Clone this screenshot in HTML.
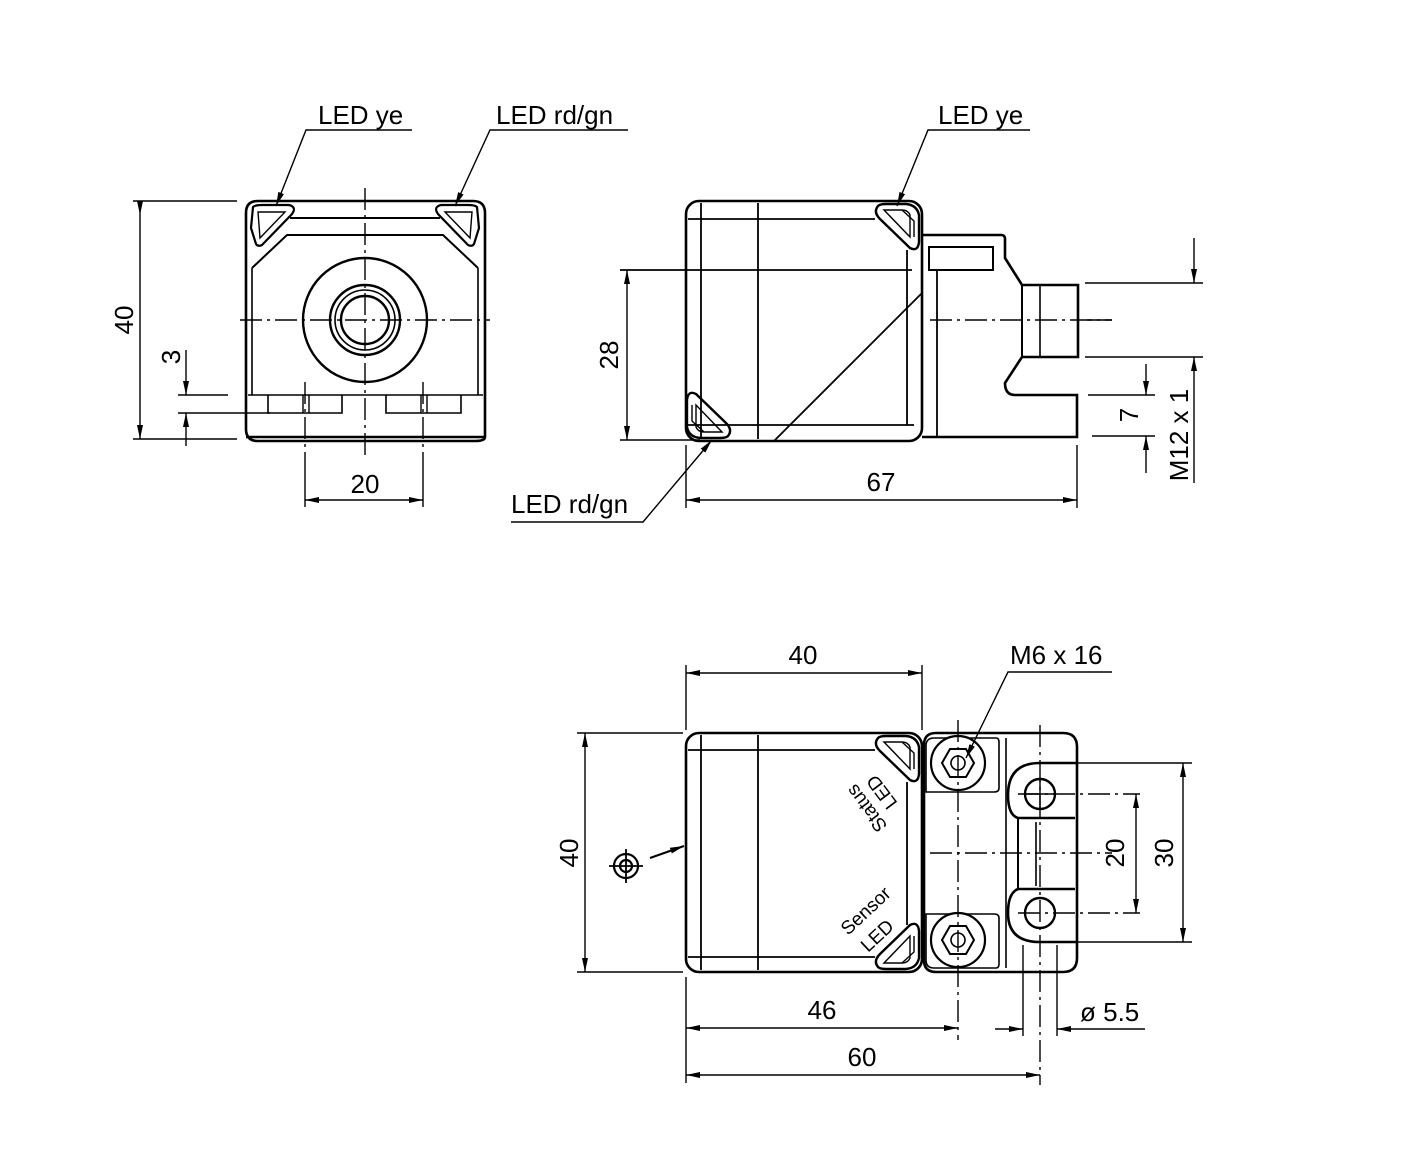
<!DOCTYPE html>
<html><head><meta charset="utf-8"><style>
html,body{margin:0;padding:0;background:#fff}
svg{display:block}
text{font-family:"Liberation Sans",Arial,sans-serif;fill:#000}
</style></head><body>
<svg width="1419" height="1170" viewBox="0 0 1419 1170" xmlns="http://www.w3.org/2000/svg">
<defs>
<marker id="a" viewBox="0 0 14 6" refX="14" refY="3" markerWidth="14" markerHeight="6" markerUnits="userSpaceOnUse" orient="auto"><path d="M0,0 L14,3 L0,6 z" fill="#000"/></marker>
<g id="led">
<path d="M-8,-35 Q-13,-29 -6,-22 L24,7 Q32,11 33,1 V-26 Q31,-36 20,-37 H0 Q-6,-37 -8,-35 Z" stroke-width="2.4"/>
<path d="M-2,-31 L24,-4 V-26 Q22,-31 16,-31 Z" stroke-width="1.4"/>
<path d="M16,-31 L28,-20 V-4" stroke-width="1.4"/>
</g>
</defs>
<g fill="none" stroke="#000" stroke-width="1.4">
<!-- ===== VIEW 1 ===== -->
<g stroke-width="2.6">
<path d="M258,201 H473 Q485,201 485,213 V437 Q485,441 475,441 H258 Q246,441 246,429 V213 Q246,201 258,201 Z"/>
<line x1="246" y1="437" x2="485" y2="437"/>
</g>
<line x1="290" y1="218" x2="440" y2="218" stroke-width="2"/>
<path d="M252,268 L287,235 H443 L478,268" stroke-width="2"/>
<path d="M252,268 V395 M478,268 V395" stroke-width="1.6"/>
<line x1="248" y1="395" x2="483" y2="395" stroke-width="1.6"/>
<path d="M268,395 V413 H342 V395 M386,395 V413 H461 V395" stroke-width="1.6"/>
<path d="M303,395 V413 M309,395 V413 M421,395 V413 M427,395 V413" stroke-width="1.4"/>
<!-- LEDs view1 -->
<path d="M253,207 Q255,205 262,205 H289 Q297,207 292,214 L262,245 Q258,247 256,244 L251,228 Z" stroke-width="2.2"/>
<path d="M258,212 H285 L260,238 Z" stroke-width="1.4"/>
<path d="M477,207 Q475,205 468,205 H441 Q433,207 438,214 L468,245 Q472,247 474,244 L479,228 Z" stroke-width="2.2"/>
<path d="M472,212 H445 L470,238 Z" stroke-width="1.4"/>
<circle cx="365" cy="320" r="62" stroke-width="2.4"/>
<circle cx="365" cy="320" r="35" stroke-width="2.4"/>
<circle cx="365" cy="320" r="30" stroke-width="1.6"/>
<circle cx="365" cy="320" r="24" stroke-width="2.4"/>
<g stroke-dasharray="22,5,3,5" stroke-width="1.4">
<line x1="240" y1="320" x2="490" y2="320"/>
<line x1="365" y1="188" x2="365" y2="458"/>
<line x1="305" y1="382" x2="305" y2="460"/>
<line x1="423" y1="382" x2="423" y2="460"/>
</g>
<!-- dims view 1 -->
<line x1="133" y1="201" x2="237" y2="201"/>
<line x1="133" y1="439" x2="237" y2="439"/>
<line x1="140" y1="201" x2="140" y2="439" marker-end="url(#a)"/>
<path d="M140,215 L137,201 L143,201 Z" fill="#000" stroke="none"/>
<line x1="178" y1="395" x2="228" y2="395"/>
<line x1="178" y1="413" x2="270" y2="413"/>
<line x1="186" y1="350" x2="186" y2="395" marker-end="url(#a)"/>
<line x1="186" y1="446" x2="186" y2="413" marker-end="url(#a)"/>
<line x1="305" y1="460" x2="305" y2="507"/>
<line x1="423" y1="460" x2="423" y2="507"/>
<line x1="305" y1="500" x2="423" y2="500" marker-end="url(#a)"/>
<path d="M305,500 L319,497 L319,503 Z" fill="#000" stroke="none"/>
<path d="M412,130 H306 L276,206" marker-end="url(#a)"/>
<path d="M628,130 H490 L455,206" marker-end="url(#a)"/>

<!-- ===== VIEW 2 ===== -->
<rect x="686" y="201" width="236" height="240" rx="13" stroke-width="2.6"/>
<g stroke-width="1.8">
<line x1="701" y1="203" x2="701" y2="439"/>
<line x1="758" y1="203" x2="758" y2="439"/>
<line x1="688" y1="219" x2="875" y2="219"/>
<line x1="688" y1="425" x2="914" y2="425"/>
<line x1="907" y1="250" x2="907" y2="425"/>
<line x1="620" y1="270" x2="912" y2="270"/>
<line x1="774" y1="441" x2="921" y2="294"/>
</g>
<use href="#led" x="886" y="241"/>
<use href="#led" x="886" y="241" transform="rotate(180 803 320) translate(0 -2)"/>
<g stroke-width="2.6">
<path d="M922,235 H1001 Q1005,235 1005,239 V258 L1022,285 H1078 V357 H1022 L1005,383 Q1005,395 1015,395 H1077 V437 H922"/>
</g>
<rect x="929" y="247" width="64" height="23" stroke-width="2"/>
<line x1="937" y1="270" x2="937" y2="437" stroke-width="1.8"/>
<line x1="1022" y1="285" x2="1022" y2="357" stroke-width="2"/>
<line x1="1040" y1="285" x2="1040" y2="357" stroke-width="1.6"/>
<line x1="930" y1="320" x2="1112" y2="320" stroke-dasharray="22,5,3,5"/>
<line x1="627" y1="270" x2="627" y2="440" marker-end="url(#a)"/>
<path d="M627,270 L624,284 L630,284 Z" fill="#000" stroke="none"/>
<line x1="620" y1="440" x2="700" y2="440"/>
<line x1="686" y1="445" x2="686" y2="508"/>
<line x1="1077" y1="445" x2="1077" y2="508"/>
<line x1="686" y1="500" x2="1077" y2="500" marker-end="url(#a)"/>
<path d="M686,500 L700,497 L700,503 Z" fill="#000" stroke="none"/>
<line x1="1085" y1="283" x2="1203" y2="283"/>
<line x1="1085" y1="357" x2="1203" y2="357"/>
<line x1="1087" y1="320" x2="1112" y2="320"/>
<line x1="1088" y1="395" x2="1155" y2="395"/>
<line x1="1092" y1="436" x2="1155" y2="436"/>
<line x1="1194" y1="238" x2="1194" y2="283" marker-end="url(#a)"/>
<line x1="1194" y1="483" x2="1194" y2="357" marker-end="url(#a)"/>
<line x1="1146" y1="364" x2="1146" y2="395" marker-end="url(#a)"/>
<line x1="1146" y1="473" x2="1146" y2="436" marker-end="url(#a)"/>
<path d="M1030,130 H928 L897,206" marker-end="url(#a)"/>
<path d="M511,522 H643 L712,440" marker-end="url(#a)"/>

<!-- ===== VIEW 3 ===== -->
<rect x="686" y="733" width="236" height="239" rx="13" stroke-width="2.6"/>
<g stroke-width="1.8">
<line x1="701" y1="735" x2="701" y2="970"/>
<line x1="758" y1="735" x2="758" y2="970"/>
<line x1="688" y1="750" x2="875" y2="750"/>
<line x1="688" y1="957" x2="875" y2="957"/>
<line x1="907" y1="782" x2="907" y2="925"/>
</g>
<use href="#led" x="886" y="773"/>
<use href="#led" x="886" y="773" transform="matrix(1 0 0 -1 0 1705)"/>
<path d="M924,745 Q924,733 936,733 H1063 Q1077,733 1077,747 V958 Q1077,972 1063,972 H936 Q924,972 924,960 Z" stroke-width="2.6"/>
<line x1="1006" y1="738" x2="1006" y2="968" stroke-width="1.6"/>
<path d="M926,792 V746 Q926,738 934,738 H996 Q999,738 999,742 V788 Q999,792 994,792 Z" stroke-width="1.6"/>
<path d="M926,914 V960 Q926,968 934,968 H996 Q999,968 999,964 V918 Q999,914 994,914 Z" stroke-width="1.6"/>
<circle cx="958" cy="763" r="27" stroke-width="2.2" fill="#fff"/>
<circle cx="958" cy="940" r="27" stroke-width="2.2" fill="#fff"/>
<polygon points="974,763 966,777 950,777 942,763 950,749 966,749" stroke-width="2"/>
<polygon points="974,940 966,954 950,954 942,940 950,926 966,926" stroke-width="2"/>
<circle cx="958" cy="763" r="7" stroke-width="1.6"/>
<circle cx="958" cy="940" r="7" stroke-width="1.6"/>
<path d="M1077,763 H1040 Q1008,763 1008,795 Q1008,815 1018,818 H1075" stroke-width="2.6"/>
<path d="M1075,889 H1018 Q1008,893 1008,913 Q1008,942 1040,942 H1077" stroke-width="2.6"/>
<line x1="1018" y1="818" x2="1018" y2="889" stroke-width="2"/>
<line x1="1036" y1="822" x2="1036" y2="886" stroke-width="1.6"/>
<circle cx="1040" cy="794" r="15" stroke-width="2.4"/>
<circle cx="1040" cy="913" r="15" stroke-width="2.4"/>
<g stroke-dasharray="22,5,3,5">
<line x1="930" y1="853" x2="1112" y2="853"/>
<line x1="958" y1="720" x2="958" y2="1040"/>
<line x1="1040" y1="725" x2="1040" y2="1085"/>
<line x1="1018" y1="794" x2="1140" y2="794"/>
<line x1="1018" y1="913" x2="1140" y2="913"/>
</g>
<line x1="1040" y1="779" x2="1040" y2="809"/>
<line x1="1025" y1="794" x2="1055" y2="794"/>
<circle cx="626" cy="866" r="12" stroke-width="2.2"/>
<circle cx="626" cy="866" r="6" stroke-width="2.2"/>
<line x1="609" y1="866" x2="643" y2="866" stroke-width="1.8"/>
<line x1="626" y1="849" x2="626" y2="883" stroke-width="1.8"/>
<line x1="650" y1="858" x2="684" y2="846" stroke-width="2" marker-end="url(#a)"/>
<line x1="686" y1="665" x2="686" y2="730"/>
<line x1="922" y1="665" x2="922" y2="730"/>
<line x1="686" y1="673" x2="922" y2="673" marker-end="url(#a)"/>
<path d="M686,673 L700,670 L700,676 Z" fill="#000" stroke="none"/>
<line x1="577" y1="733" x2="683" y2="733"/>
<line x1="577" y1="972" x2="683" y2="972"/>
<line x1="585" y1="733" x2="585" y2="972" marker-end="url(#a)"/>
<path d="M585,733 L582,747 L588,747 Z" fill="#000" stroke="none"/>
<line x1="1077" y1="763" x2="1192" y2="763"/>
<line x1="1058" y1="942" x2="1192" y2="942"/>
<line x1="1183" y1="763" x2="1183" y2="942" marker-end="url(#a)"/>
<path d="M1183,763 L1180,777 L1186,777 Z" fill="#000" stroke="none"/>
<line x1="1136" y1="794" x2="1136" y2="913" marker-end="url(#a)"/>
<path d="M1136,794 L1133,808 L1139,808 Z" fill="#000" stroke="none"/>
<line x1="686" y1="977" x2="686" y2="1083"/>
<line x1="686" y1="1028" x2="958" y2="1028" marker-end="url(#a)"/>
<path d="M686,1028 L700,1025 L700,1031 Z" fill="#000" stroke="none"/>
<line x1="686" y1="1075" x2="1040" y2="1075" marker-end="url(#a)"/>
<path d="M686,1075 L700,1072 L700,1078 Z" fill="#000" stroke="none"/>
<line x1="1023" y1="945" x2="1023" y2="1036"/>
<line x1="1057" y1="945" x2="1057" y2="1036"/>
<line x1="995" y1="1029" x2="1023" y2="1029" marker-end="url(#a)"/>
<line x1="1145" y1="1029" x2="1057" y2="1029" marker-end="url(#a)"/>
<path d="M1112,672 H1008 L966,758" marker-end="url(#a)"/>
</g>
<g font-size="26">
<text x="318" y="124">LED ye</text>
<text x="496" y="124">LED rd/gn</text>
<text x="938" y="124">LED ye</text>
<text x="511" y="513">LED rd/gn</text>
<text x="365" y="493" text-anchor="middle">20</text>
<text x="881" y="491" text-anchor="middle">67</text>
<text transform="translate(133,320) rotate(-90)" text-anchor="middle">40</text>
<text transform="translate(180,357) rotate(-90)" text-anchor="middle">3</text>
<text transform="translate(618,355) rotate(-90)" text-anchor="middle">28</text>
<text transform="translate(1138,415) rotate(-90)" text-anchor="middle">7</text>
<text transform="translate(1188,435) rotate(-90)" text-anchor="middle">M12 x 1</text>
<text x="803" y="664" text-anchor="middle">40</text>
<text x="1010" y="664">M6 x 16</text>
<text transform="translate(578,853) rotate(-90)" text-anchor="middle">40</text>
<text transform="translate(1124,853) rotate(-90)" text-anchor="middle">20</text>
<text transform="translate(1173,853) rotate(-90)" text-anchor="middle">30</text>
<text x="822" y="1019" text-anchor="middle">46</text>
<text x="862" y="1066" text-anchor="middle">60</text>
<text x="1080" y="1021">ø 5.5</text>
</g>
<g font-size="19">
<text transform="translate(888,826) rotate(-127)">Status</text>
<text transform="translate(898,803) rotate(-127)">LED</text>
<text transform="translate(848,936) rotate(-43)">Sensor</text>
<text transform="translate(868,953) rotate(-43)">LED</text>
</g>
</svg>
</body></html>
